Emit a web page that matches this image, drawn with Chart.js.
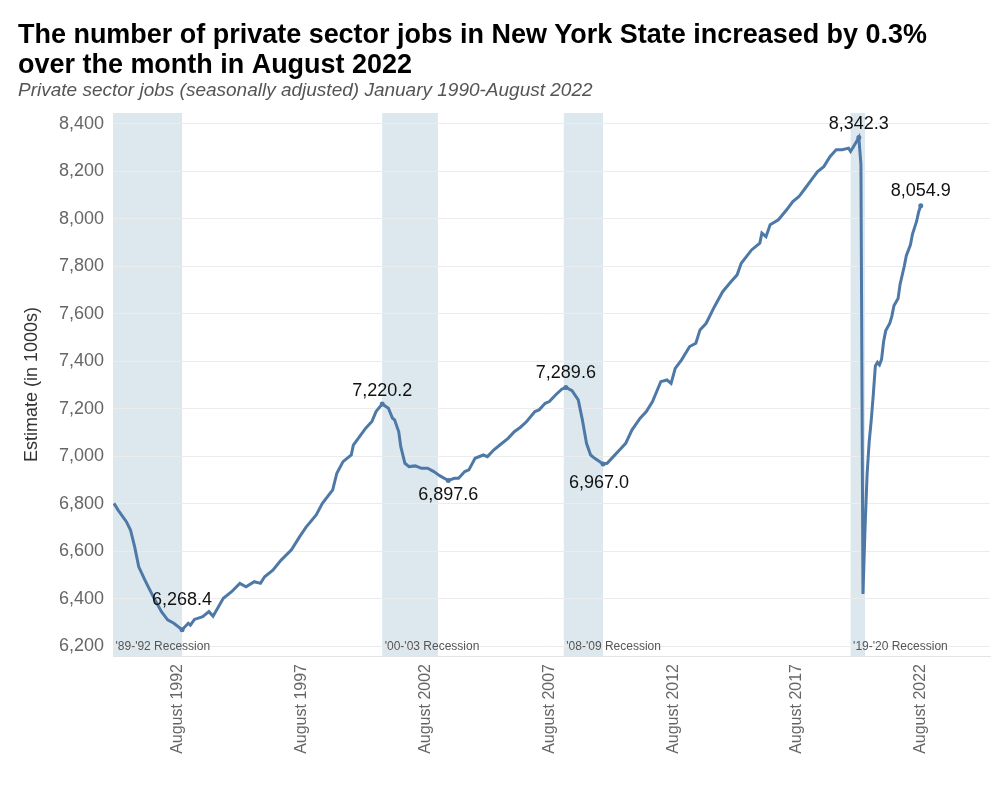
<!DOCTYPE html>
<html>
<head>
<meta charset="utf-8">
<script src="https://cdn.jsdelivr.net/npm/chart.js@4.4.0/dist/chart.umd.min.js"></script>
<style>
  html, body { margin: 0; padding: 0; background: #fff; }
  #wrap { position: relative; width: 1000px; height: 800px; }
</style>
</head>
<body>
<div id="wrap"><canvas id="jobsChart" width="1000" height="800"></canvas></div>
<script>
// ===============================
// Data
// ===============================
const months = [
  '1990-01','1990-03','1990-07','1990-09','1990-11','1991-01','1991-04','1991-08','1991-12',
  '1992-03','1992-06','1992-10','1993-01','1993-02','1993-04','1993-08','1993-11','1994-01',
  '1994-06','1994-10','1995-02','1995-05','1995-09','1995-12','1996-02','1996-06','1996-10',
  '1997-03','1997-07','1997-10','1998-03','1998-06','1998-11','1999-01','1999-04','1999-08',
  '1999-09','1999-12','2000-03','2000-06','2000-08','2000-11','2001-02','2001-04','2001-05',
  '2001-07','2001-08','2001-10','2001-12','2002-03','2002-06','2002-09','2002-12','2003-03',
  '2003-07','2003-10','2003-12','2004-03','2004-05','2004-08','2004-12','2005-02','2005-05',
  '2005-08','2005-12','2006-03','2006-06','2006-09','2007-01','2007-03','2007-06','2007-08',
  '2007-11','2008-02','2008-04','2008-07','2008-10','2008-12','2009-02','2009-04','2009-06',
  '2009-10','2009-12','2010-03','2010-06','2010-09','2010-12','2011-04','2011-07','2011-10',
  '2012-02','2012-05','2012-07','2012-09','2012-12','2013-04','2013-07','2013-09','2013-12',
  '2014-04','2014-08','2014-12','2015-03','2015-05','2015-10','2016-02','2016-03','2016-05',
  '2016-07','2016-11','2017-03','2017-06','2017-09','2017-12','2018-03','2018-06','2018-09',
  '2018-12','2019-03','2019-06','2019-09','2019-10','2020-02','2020-03','2020-04','2020-05',
  '2020-06','2020-07','2020-08','2020-09','2020-10','2020-11','2020-12','2021-01','2021-02',
  '2021-03','2021-05','2021-06','2021-07','2021-09','2021-10','2021-12','2022-01','2022-03',
  '2022-04','2022-06','2022-07','2022-08'
];

const jobs = [
  6801, 6773, 6724, 6689, 6619, 6534, 6478, 6408, 6345,
  6310, 6296, 6268.4, 6296, 6288, 6312, 6324, 6345, 6326,
  6401, 6429, 6464, 6450, 6471, 6464, 6492, 6520, 6562,
  6605, 6661, 6700, 6752, 6801, 6858, 6928, 6977, 7005,
  7047, 7082, 7118, 7146, 7188, 7220.2, 7202, 7160, 7153,
  7103, 7040, 6970, 6956, 6959, 6949, 6949, 6935, 6917,
  6897.6, 6907, 6907, 6935, 6942, 6991, 7005, 6998, 7026,
  7047, 7075, 7103, 7122, 7146, 7188, 7195, 7223, 7230,
  7258, 7282, 7289.6, 7276, 7237, 7153, 7054, 7005, 6991,
  6967.0, 6970, 6998, 7026, 7054, 7110, 7160, 7188, 7230,
  7314, 7321, 7307, 7370, 7405, 7462, 7476, 7532, 7560,
  7630, 7693, 7735, 7764, 7813, 7869, 7897, 7940, 7925,
  7975, 7996, 8038, 8073, 8094, 8129, 8164, 8199, 8220,
  8262, 8291, 8291, 8298, 8284, 8342.3, 8230, 6419, 6698,
  6925, 7060, 7151, 7260, 7380, 7395, 7385, 7408, 7483,
  7528, 7560, 7590, 7634, 7664, 7725, 7800, 7845, 7891,
  7936, 7990, 8030, 8054.9
];

// months that carry a value label
const labeledMonths = ['1992-10', '2000-11', '2003-07', '2008-04', '2009-10', '2020-02', '2022-08'];

const xTickMonths = ['1992-08', '1997-08', '2002-08', '2007-08', '2012-08', '2017-08', '2022-08'];
const yTicks = [6200, 6400, 6600, 6800, 7000, 7200, 7400, 7600, 7800, 8000, 8200, 8400];

const recessionNames = ["'89-'92 Recession", "'00-'03 Recession", "'08-'09 Recession", "'19-'20 Recession"];
const recessionStarts = ['1989-12', '2000-11', '2008-03', '2019-10'];
const recessionEnds = ['1992-10', '2003-02', '2009-10', '2020-05'];

const titleLines = [
  'The number of private sector jobs in New York State increased by 0.3%',
  'over the month in August 2022'
];
const subtitle = 'Private sector jobs (seasonally adjusted) January 1990-August 2022';

// ===============================
// Helpers
// ===============================
const monthNames = ['January','February','March','April','May','June','July','August','September','October','November','December'];

function toYear(m) {
  const [y, mo] = m.split('-').map(Number);
  return y + (mo - 1) / 12;
}

function monthLabel(v) {
  const y = Math.floor(v + 1e-6);
  const mo = Math.round((v - y) * 12);
  return monthNames[mo] + ' ' + y;
}

const lineColor = '#4e79a7';
const sans = '"Liberation Sans", Arial, sans-serif';

// label placement around each labelled point (dx, dy of text centre)
const labelOffsets = [[0, -30], [0, -13], [0, 15], [0, -14], [-4, 19], [0, -14], [0, -15]];

// ===============================
// Plugins
// ===============================
const bandsPlugin = {
  id: 'bands',
  beforeDraw(chart) {
    const { ctx, chartArea, scales } = chart;
    ctx.save();
    ctx.fillStyle = '#ffffff';
    ctx.fillRect(0, 0, chart.width, chart.height);
    ctx.fillStyle = '#dce8ee';
    recessionStarts.forEach((s, i) => {
      let x0 = scales.x.getPixelForValue(toYear(s));
      let x1 = scales.x.getPixelForValue(toYear(recessionEnds[i]));
      x0 = Math.max(x0, chartArea.left);
      ctx.fillRect(x0, chartArea.top, x1 - x0, chartArea.bottom - chartArea.top);
    });
    ctx.restore();
  },
  afterDatasetsDraw(chart) {
    const { ctx, chartArea, scales } = chart;
    ctx.save();
    // recession names along the bottom
    ctx.font = '12px ' + sans;
    ctx.fillStyle = '#555555';
    ctx.textBaseline = 'middle';
    ctx.textAlign = 'left';
    recessionStarts.forEach((s, i) => {
      const x0 = Math.max(scales.x.getPixelForValue(toYear(s)), chartArea.left);
      ctx.fillText(recessionNames[i], x0 + 2.5, chartArea.bottom - 9);
    });

    // value labels
    ctx.font = '18px ' + sans;
    ctx.fillStyle = '#111111';
    ctx.textAlign = 'center';
    labeledMonths.forEach((m, i) => {
      const idx = months.indexOf(m);
      const px = scales.x.getPixelForValue(toYear(m));
      const py = scales.y.getPixelForValue(jobs[idx]);
      const txt = jobs[idx].toLocaleString('en-US', { minimumFractionDigits: 1, maximumFractionDigits: 1 });
      ctx.fillText(txt, px + labelOffsets[i][0], py + labelOffsets[i][1]);
    });
    ctx.restore();
  },
  afterDraw(chart) {
    const { ctx } = chart;
    ctx.save();
    ctx.textAlign = 'left';
    ctx.textBaseline = 'alphabetic';
    ctx.fillStyle = '#000000';
    ctx.font = 'bold 28px ' + sans;
    // the title face is a condensed bold; squeeze it to the same width
    const squeeze = 909 / ctx.measureText(titleLines[0]).width;
    ctx.save();
    ctx.translate(18, 0);
    ctx.scale(squeeze, 1);
    ctx.fillText(titleLines[0], 0, 43);
    ctx.fillText(titleLines[1], 0, 73);
    ctx.restore();
    ctx.fillStyle = '#555555';
    ctx.font = 'italic 19px ' + sans;
    ctx.fillText(subtitle, 18, 96);
    ctx.restore();
  }
};

// ===============================
// Chart
// ===============================
const labeledSet = new Set(labeledMonths.map(m => months.indexOf(m)));

const ctx = document.getElementById('jobsChart').getContext('2d');
const jobsChart = new Chart(ctx, {
  type: 'line',
  data: {
    datasets: [{
      label: 'Private sector jobs',
      data: months.map((m, i) => ({ x: toYear(m), y: jobs[i] })),
      borderColor: lineColor,
      backgroundColor: lineColor,
      borderWidth: 3,
      pointRadius: (c) => labeledSet.has(c.dataIndex) ? 2.5 : 0,
      pointBackgroundColor: lineColor,
      pointBorderWidth: 0,
      tension: 0,
      fill: false
    }]
  },
  options: {
    responsive: false,
    animation: false,
    devicePixelRatio: 1,
    layout: { padding: { top: 113, right: 10, left: 0, bottom: 0 } },
    plugins: {
      legend: { display: false },
      tooltip: { enabled: false }
    },
    scales: {
      x: {
        type: 'linear',
        min: 1989.96,
        max: 2025.38,
        afterFit: (s) => { s.height = 144; },
        afterBuildTicks: (s) => { s.ticks = xTickMonths.map(m => ({ value: toYear(m) })); },
        grid: { display: false },
        border: { display: true, color: '#e4e4e4', width: 1 },
        ticks: {
          autoSkip: false,
          minRotation: 90,
          maxRotation: 90,
          padding: 0,
          color: '#666666',
          font: { family: sans, size: 16 },
          callback: (v) => monthLabel(v)
        }
      },
      y: {
        min: 6158,
        max: 8446,
        afterFit: (s) => { s.width = 113; },
        afterBuildTicks: (s) => { s.ticks = yTicks.map(v => ({ value: v })); },
        grid: { color: '#ececec', drawTicks: false },
        border: { display: false },
        ticks: {
          padding: 9,
          color: '#666666',
          font: { family: sans, size: 18 },
          callback: (v) => v.toLocaleString('en-US')
        },
        title: {
          display: true,
          text: 'Estimate (in 1000s)',
          color: '#333333',
          font: { family: sans, size: 18 },
          padding: { top: 21, bottom: 0 }
        }
      }
    }
  },
  plugins: [bandsPlugin]
});
</script>
</body>
</html>
